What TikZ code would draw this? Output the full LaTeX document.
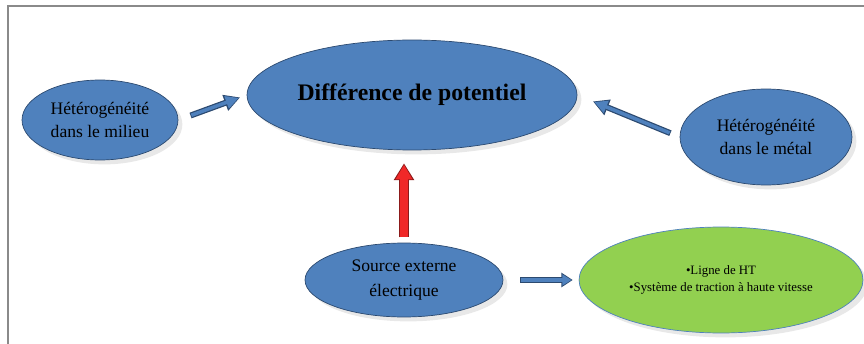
\documentclass[tikz,border=0pt]{standalone}
\usepackage{fontspec}
\setmainfont{Liberation Serif}
\usetikzlibrary{arrows.meta, shadows, shapes.geometric}
\definecolor{nodeblue}{HTML}{4F81BD}
\definecolor{edgeblue}{HTML}{2C4A70}
\definecolor{leafgreen}{HTML}{92D050}
\definecolor{alarmred}{HTML}{F02828}
\definecolor{darkred}{HTML}{8C1A1A}
\definecolor{framegray}{HTML}{8A8A8A}

\begin{document}
\begin{tikzpicture}[
		x=0.02cm, y=-0.02cm,
		bubble/.style={
			ellipse, draw=edgeblue, thin, fill=nodeblue, inner sep=0pt,
			align=center, text=black,
			drop shadow={opacity=0.18, shadow xshift=2.5pt, shadow yshift=-2.5pt}
		},
		greenbubble/.style={
			bubble, draw=nodeblue, fill=leafgreen
		},
		outline/.style={draw=edgeblue, line width=#1},
		filling/.style={draw=nodeblue, line width=#1},
		frame/.style={draw=framegray, line width=1.2pt}
		]
		
		\useasboundingbox (0,0) rectangle (864,344);
		
		% Frame of the figure (only top and left edges are visible)
		\draw[frame] (8,344) -- (8,6) -- (864,6);
		
		% Main bubbles
		\node[bubble, minimum width=6.6cm, minimum height=2.2cm,
			font=\fontsize{13.5}{16}\selectfont\bfseries] (diff) at (412,95) {Différence de potentiel};
		\node[bubble, minimum width=3.12cm, minimum height=1.6cm,
			font=\fontsize{10}{13}\selectfont] (mil) at (100,120) {Hétérogénéité\\dans le milieu};
		\node[bubble, minimum width=3.44cm, minimum height=1.92cm,
			font=\fontsize{10}{13}\selectfont] (metal) at (766,137) {Hétérogénéité\\dans le métal};
		\node[bubble, minimum width=3.96cm, minimum height=1.48cm,
			font=\fontsize{10}{14}\selectfont] (src) at (404,280) {Source externe\\électrique};
		\node[greenbubble, minimum width=5.68cm, minimum height=2.12cm,
			font=\fontsize{7.3}{10}\selectfont] (ht) at (721,280) {•Ligne de HT\\•Système de traction à haute vitesse};
		
		% --- Block arrows: dark outline first, then the fill on top ---
		
		% Milieu to difference
		\draw[outline=3.4pt, -{Triangle[length=9pt, width=9pt]},
			shorten <=7.4pt, shorten >=4pt] (mil.east) -- (diff.west);
		\draw[filling=2pt, -{Triangle[length=7.4pt, width=7pt]},
			shorten <=7.9pt, shorten >=4.8pt] (mil.east) -- (diff.west);
		
		% Metal to difference
		\draw[outline=3.4pt, -{Triangle[length=9pt, width=9pt]},
			shorten <=5.7pt, shorten >=9.6pt] (metal.west) -- (diff.east);
		\draw[filling=2pt, -{Triangle[length=7.4pt, width=7pt]},
			shorten <=6.2pt, shorten >=10.4pt] (metal.west) -- (diff.east);
		
		% External source to difference (red)
		\draw[draw=darkred, line width=6pt, -{Triangle[length=9.5pt, width=11pt]},
			shorten <=3pt, shorten >=7.4pt] (src.north) -- (src.north |- diff.south);
		\draw[draw=alarmred, line width=4.6pt, -{Triangle[length=8.3pt, width=9pt]},
			shorten <=3.5pt, shorten >=8.2pt] (src.north) -- (src.north |- diff.south);
		
		% External source to examples
		\draw[outline=3.2pt, -{Triangle[length=6.5pt, width=8pt]},
			shorten <=9.6pt, shorten >=3.4pt] (src.east) -- (ht.west);
		\draw[filling=1.8pt, -{Triangle[length=5.2pt, width=6pt]},
			shorten <=10.1pt, shorten >=4.1pt] (src.east) -- (ht.west);
		
	\end{tikzpicture}
\end{document}
